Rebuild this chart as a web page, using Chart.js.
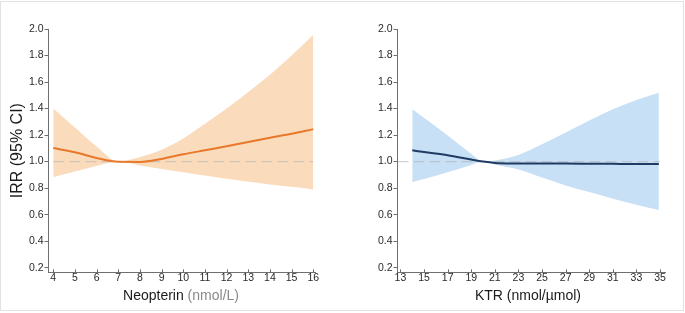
<!DOCTYPE html>
<html>
<head>
<meta charset="utf-8">
<script src="https://cdn.jsdelivr.net/npm/chart.js@4.4.1/dist/chart.umd.min.js"></script>
<style>
  html, body { margin: 0; padding: 0; background: #fff; }
  #wrap { position: relative; width: 685px; height: 313px; overflow: hidden; }
  #frame { position: absolute; left: 0; top: 1px; width: 684px; height: 310px; box-sizing: border-box; border: 1px solid #e2e2e2; }
  .box { position: absolute; top: 0; height: 313px; }
  #leftBox { left: 0; width: 340px; }
  #rightBox { left: 340px; width: 345px; }
</style>
</head>
<body>
<div id="wrap">
  <div id="frame"></div>
  <div class="box" id="leftBox"><canvas id="neoChart" width="340" height="313"></canvas></div>
  <div class="box" id="rightBox"><canvas id="ktrChart" width="345" height="313"></canvas></div>
</div>
<script>
// Neopterin panel
const neoX     = [4, 5, 6, 7, 8, 9, 10, 11, 12, 13, 14, 15, 16];
const neoIRR   = [1.102, 1.07, 1.027, 0.998, 0.997, 1.02, 1.055, 1.085, 1.115, 1.148, 1.18, 1.21, 1.245];
const neoUpper = [1.40, 1.257, 1.114, 1.00, 1.035, 1.09, 1.175, 1.285, 1.40, 1.525, 1.655, 1.80, 1.957];
const neoLower = [0.882, 0.925, 0.967, 1.00, 0.97, 0.945, 0.92, 0.895, 0.87, 0.848, 0.828, 0.81, 0.79];
const neoTicks = [4, 5, 6, 7, 8, 9, 10, 11, 12, 13, 14, 15, 16];

// KTR panel
const ktrX     = [14, 15, 17, 19, 20, 21, 23, 25, 27, 29, 31, 33, 34.9];
const ktrIRR   = [1.085, 1.072, 1.048, 1.015, 1.0, 0.99, 0.986, 0.985, 0.985, 0.984, 0.983, 0.982, 0.981];
const ktrUpper = [1.395, 1.33, 1.197, 1.06, 1.00, 1.008, 1.05, 1.13, 1.22, 1.31, 1.395, 1.465, 1.52];
const ktrLower = [0.845, 0.868, 0.92, 0.975, 1.00, 0.978, 0.94, 0.88, 0.82, 0.77, 0.72, 0.675, 0.635];
const ktrTicks = [13, 15, 17, 19, 21, 23, 25, 27, 29, 31, 33, 35];

const yTicks = [0.2, 0.4, 0.6, 0.8, 1.0, 1.2, 1.4, 1.6, 1.8, 2.0];
const refY = 1.0;

const FONT = "'Liberation Sans', Arial, sans-serif";
const AXIS_COLOR = '#6f6f6f';
const TICK_COLOR = '#2a2a2a';

function pts(xs, ys) {
    return xs.map((x, i) => ({ x: x, y: ys[i] }));
}

function makePanel(id, opt) {
    // axis titles + small inward tick marks on the x axis
    const decor = {
        id: 'decor',
        afterDraw(chart) {
            const ctx = chart.ctx;
            const xs = chart.scales.x;
            const area = chart.chartArea;
            ctx.save();
            ctx.strokeStyle = AXIS_COLOR;
            ctx.lineWidth = 1;
            opt.xTicks.forEach(v => {
                const px = Math.round(xs.getPixelForValue(v)) + 0.5;
                ctx.beginPath();
                ctx.moveTo(px, area.bottom);
                ctx.lineTo(px, area.bottom - 3);
                ctx.stroke();
            });

            ctx.font = '14px ' + FONT;
            ctx.textBaseline = 'alphabetic';
            ctx.textAlign = 'left';
            const total = opt.xTitle.reduce((s, p) => s + ctx.measureText(p.text).width, 0);
            let x = opt.titleCenter - total / 2;
            opt.xTitle.forEach(p => {
                ctx.fillStyle = p.color;
                ctx.fillText(p.text, x, 300);
                x += ctx.measureText(p.text).width;
            });

            if (opt.yTitle) {
                ctx.translate(17.5, (area.top + area.bottom) / 2);
                ctx.rotate(-Math.PI / 2);
                ctx.font = '16px ' + FONT;
                ctx.fillStyle = '#1a1a1a';
                ctx.textAlign = 'center';
                ctx.textBaseline = 'middle';
                ctx.fillText(opt.yTitle, 0, 0);
            }
            ctx.restore();
        }
    };

    return new Chart(document.getElementById(id), {
        type: 'line',
        data: {
            datasets: [
                {
                    data: pts(opt.x, opt.upper),
                    borderWidth: 0,
                    pointRadius: 0,
                    backgroundColor: opt.band,
                    fill: '+1',
                    cubicInterpolationMode: 'monotone',
                    order: 3
                },
                {
                    data: pts(opt.x, opt.lower),
                    borderWidth: 0,
                    pointRadius: 0,
                    fill: false,
                    cubicInterpolationMode: 'monotone',
                    order: 4
                },
                {
                    data: pts(opt.refX, [refY, refY]),
                    borderColor: 'rgba(175,175,175,0.55)',
                    borderWidth: 1.3,
                    borderDash: [11, 5],
                    pointRadius: 0,
                    fill: false,
                    order: 2
                },
                {
                    data: pts(opt.x, opt.irr),
                    borderColor: opt.line,
                    borderWidth: 2,
                    pointRadius: 0,
                    fill: false,
                    cubicInterpolationMode: 'monotone',
                    order: 1
                }
            ]
        },
        options: {
            responsive: false,
            animation: false,
            devicePixelRatio: 1,
            layout: { padding: { left: 0, right: opt.padRight, top: 29, bottom: 0 } },
            plugins: { legend: { display: false }, tooltip: { enabled: false } },
            scales: {
                x: {
                    type: 'linear',
                    min: opt.xMin,
                    max: opt.xMax,
                    afterBuildTicks: s => { s.ticks = opt.xTicks.map(v => ({ value: v })); },
                    afterFit: s => { s.height = 40.7; },
                    grid: { display: false, drawTicks: false, tickLength: 0 },
                    border: { display: true, color: AXIS_COLOR, width: 1 },
                    ticks: {
                        color: TICK_COLOR,
                        font: { family: FONT, size: 10.5 },
                        padding: 0,
                        maxRotation: 0,
                        autoSkip: false,
                        callback: v => String(v)
                    }
                },
                y: {
                    type: 'linear',
                    min: 0.165,
                    max: 2.0,
                    afterBuildTicks: s => { s.ticks = yTicks.map(v => ({ value: v })); },
                    afterFit: s => { s.width = opt.yWidth; },
                    grid: {
                        display: true,
                        drawOnChartArea: false,
                        drawTicks: true,
                        tickLength: 4,
                        color: AXIS_COLOR
                    },
                    border: { display: true, color: AXIS_COLOR, width: 1 },
                    ticks: {
                        color: TICK_COLOR,
                        font: { family: FONT, size: 10.5 },
                        padding: 1,
                        callback: v => Number(v).toFixed(1)
                    }
                }
            }
        },
        plugins: [decor]
    });
}

makePanel('neoChart', {
    x: neoX, irr: neoIRR, upper: neoUpper, lower: neoLower,
    xTicks: neoTicks, refX: [4, 16],
    xMin: 3.78, xMax: 16.08,
    yWidth: 48.5, padRight: 25,
    band: '#fadcbd', line: '#e8782a',
    titleCenter: 181,
    xTitle: [{ text: 'Neopterin ', color: '#1a1a1a' }, { text: '(nmol/L)', color: '#8a8a8a' }],
    yTitle: 'IRR (95% CI)'
});

makePanel('ktrChart', {
    x: ktrX, irr: ktrIRR, upper: ktrUpper, lower: ktrLower,
    xTicks: ktrTicks, refX: [12.75, 35],
    xMin: 12.75, xMax: 35.42,
    yWidth: 57.5, padRight: 20,
    band: '#c7e0f5', line: '#1f3b63',
    titleCenter: 188,
    xTitle: [{ text: 'KTR (nmol/\u00b5mol)', color: '#1a1a1a' }],
    yTitle: null
});
</script>
</body>
</html>
